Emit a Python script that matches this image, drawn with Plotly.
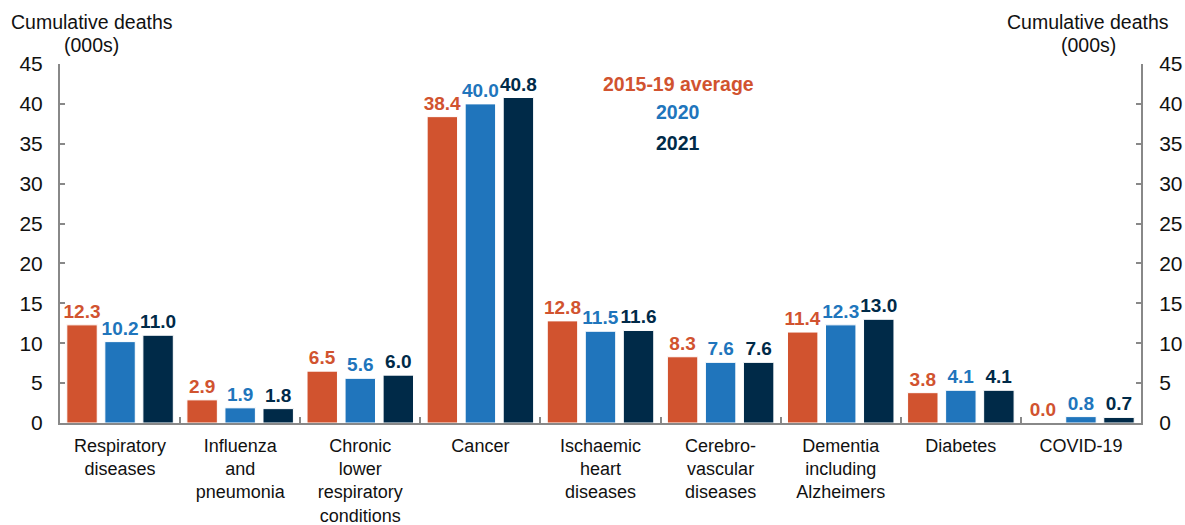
import plotly.graph_objects as go

categories = ["Respiratory<br>diseases", "Influenza<br>and<br>pneumonia",
              "Chronic<br>lower<br>respiratory<br>conditions", "Cancer",
              "Ischaemic<br>heart<br>diseases", "Cerebro-<br>vascular<br>diseases",
              "Dementia<br>including<br>Alzheimers", "Diabetes", "COVID-19"]
series_names = ["2015-19 average", "2020", "2021"]
avg_2015_19 = [12.3, 2.9, 6.5, 38.4, 12.8, 8.3, 11.4, 3.8, 0.0]
deaths_2020 = [10.2, 1.9, 5.6, 40.0, 11.5, 7.6, 12.3, 4.1, 0.8]
deaths_2021 = [11.0, 1.8, 6.0, 40.8, 11.6, 7.6, 13.0, 4.1, 0.7]
colors = ["#D1532F", "#2075BC", "#002A48"]
y_ticks = [0, 5, 10, 15, 20, 25, 30, 35, 40, 45]
axis_title_lines = ["Cumulative deaths", "(000s)"]

FONT = "Liberation Sans, Arial, sans-serif"
TXT = "#111111"
AX = "#888888"

fig = go.Figure()
for name, vals, col in zip(series_names, [avg_2015_19, deaths_2020, deaths_2021], colors):
    fig.add_trace(go.Bar(
        x=categories, y=vals, name=name,
        marker=dict(color=col, line=dict(color="white", width=1)),
        text=[f"{v:.1f}" for v in vals], textposition="outside",
        texttemplate="<b>%{text}</b>", constraintext="none",
        textfont=dict(color=col, size=19, family=FONT),
        cliponaxis=False,
    ))
# invisible trace for right axis
fig.add_trace(go.Scatter(x=categories, y=avg_2015_19, yaxis="y2", mode="markers",
                         marker=dict(opacity=0), showlegend=False, hoverinfo="skip"))

axis_common = dict(range=[0, 45], tickvals=y_ticks, ticks="inside", ticklen=5,
                   tickcolor=AX, tickwidth=2, showline=True, linecolor=AX,
                   linewidth=2, showgrid=False, zeroline=False, automargin=False,
                   tickfont=dict(size=21, family=FONT, color=TXT))

fig.update_layout(
    width=1185, height=525,
    margin=dict(l=60, r=44, t=64, b=102),
    plot_bgcolor="white", paper_bgcolor="white",
    barmode="group", bargap=0.05, bargroupgap=0.2,
    showlegend=False,
    font=dict(family=FONT, size=19, color=TXT),
    xaxis=dict(showline=True, linecolor=AX, linewidth=2, ticks="inside",
               tickson="boundaries", ticklen=6, tickcolor=AX, tickwidth=2,
               ticklabelstandoff=5, automargin=False,
               tickfont=dict(size=18, family=FONT, color=TXT), showgrid=False),
    yaxis=dict(side="left", ticklabelstandoff=11, **axis_common),
    yaxis2=dict(side="right", overlaying="y", ticklabelstandoff=12, **axis_common),
)

# axis titles (two lines each, tight spacing like the original)
for xc in (0.0296, 0.951):
    for line, yp in zip(axis_title_lines, (1.117, 1.053)):
        fig.add_annotation(text=line, xref="paper", yref="paper", x=xc, y=yp,
                           xanchor="center", yanchor="middle", showarrow=False,
                           font=dict(size=19.5, family=FONT, color=TXT))

# text legend
for name, col, yp in zip(series_names, colors, (0.944, 0.866, 0.780)):
    fig.add_annotation(text=f"<b>{name}</b>", xref="paper", yref="paper",
                       x=0.572, y=yp, xanchor="center", yanchor="middle",
                       showarrow=False, font=dict(size=19.5, family=FONT, color=col))

fig.write_html("out.html", config={"displayModeBar": False},
               post_script="document.body.style.margin='0';")
